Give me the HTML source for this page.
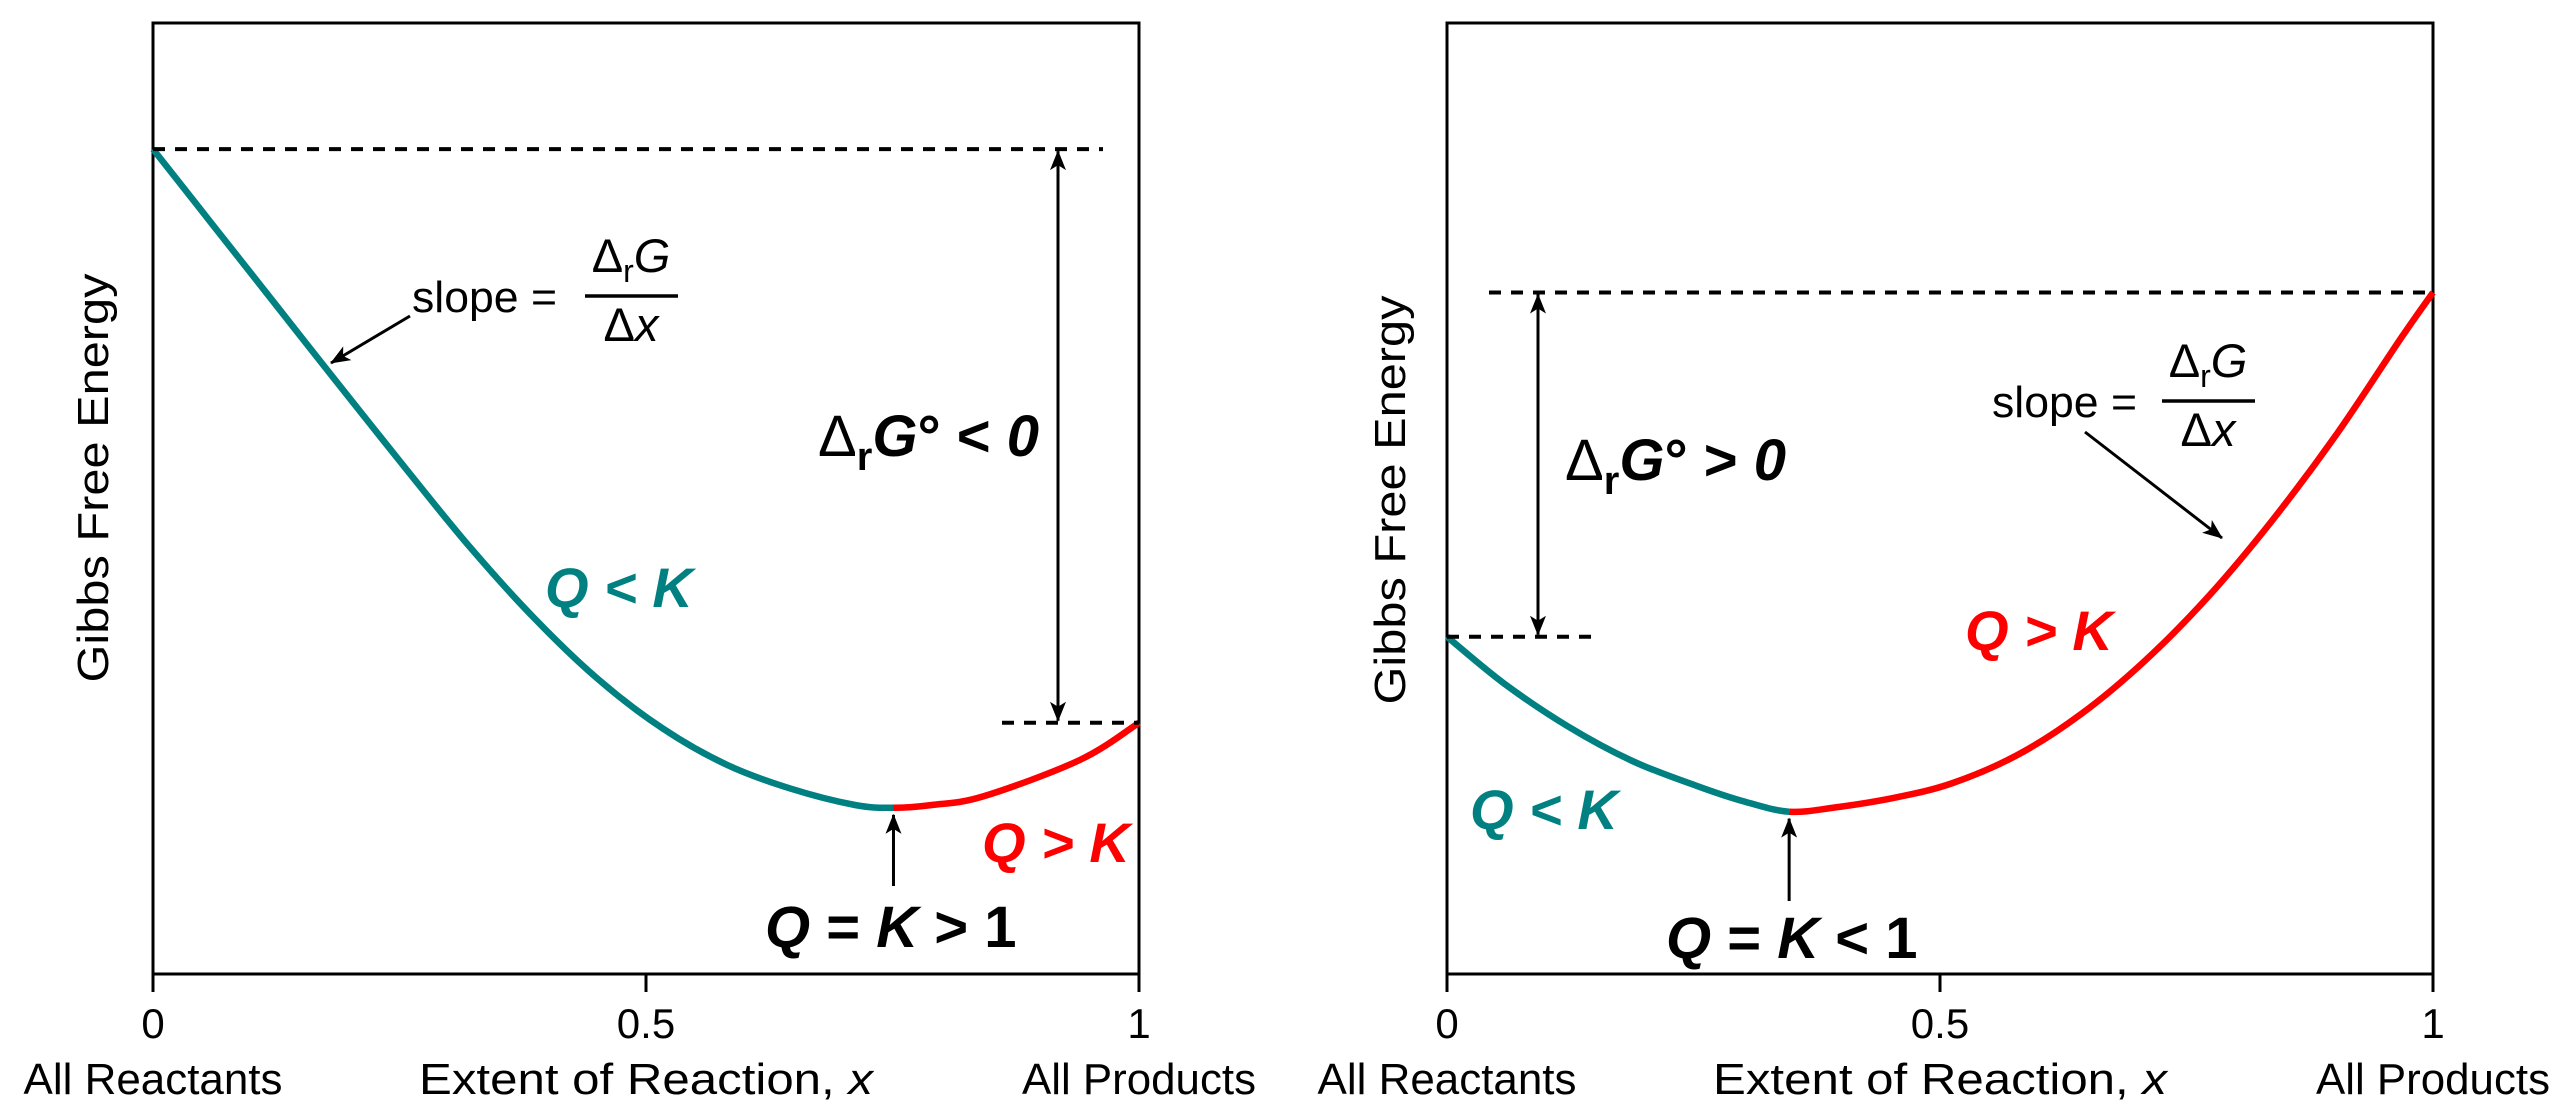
<!DOCTYPE html>
<html><head><meta charset="utf-8"><style>
html,body{margin:0;padding:0;background:#fff;}
svg{display:block;font-family:"Liberation Sans",Arial,sans-serif;}
</style></head><body>
<svg id="chart" width="2560" height="1120" viewBox="0 0 2560 1120" xmlns="http://www.w3.org/2000/svg">
<defs>
<marker id="ah" viewBox="0 0 20 20" refX="19" refY="10" markerWidth="20" markerHeight="20" markerUnits="userSpaceOnUse" orient="auto-start-reverse">
<path d="M0,2 L20,10 L0,18 L5,10 Z" fill="#000"/>
</marker>
</defs>
<g id="left"></g>
<g id="right"></g>
</svg>
<script>
// Data: extent of reaction sample points and Gibbs energy (arbitrary units)
const xSamplesLeft = [0,0.062,0.127,0.179,0.257,0.322,0.387,0.452,0.517,0.582,0.647,0.712,0.751,0.79,0.842,0.940,1];
const gLeft = [86.7,78.6,70.1,63.3,53.2,45.0,37.6,31.2,26.1,22.3,19.8,18.1,17.8,18.1,19.0,22.8,26.7];
const eqLeft = 0.751;
const xSamplesRight = [0,0.058,0.123,0.188,0.253,0.30,0.347,0.394,0.456,0.513,0.578,0.643,0.708,0.773,0.838,0.903,0.968,1];
const gRight = [35.7,30.8,26.3,22.7,20.1,18.5,17.4,17.85,18.9,20.4,23.3,27.6,33.2,40.0,48.0,57.0,67.0,71.7];
const eqRight = 0.347;
const xTicks = [0,0.5,1];
const xTickLabels = ["0","0.5","1"];

const NS="http://www.w3.org/2000/svg";
function mk(parent,tag,attrs,text){const e=document.createElementNS(NS,tag);for(const k in attrs)e.setAttribute(k,attrs[k]);if(text!==undefined)e.textContent=text;parent.appendChild(e);return e;}

const TOP=23, AXY=974, W=986;
function yScale(g){return 978-g*9.56;}

function splineSegs(pts){
  const segs=[];
  for(let i=0;i<pts.length-1;i++){
    const p0=pts[Math.max(0,i-1)],p1=pts[i],p2=pts[i+1],p3=pts[Math.min(pts.length-1,i+2)];
    const c1=[p1[0]+(p2[0]-p0[0])/6,p1[1]+(p2[1]-p0[1])/6];
    const c2=[p2[0]-(p3[0]-p1[0])/6,p2[1]-(p3[1]-p1[1])/6];
    segs.push(" C"+c1[0].toFixed(1)+","+c1[1].toFixed(1)+" "+c2[0].toFixed(1)+","+c2[1].toFixed(1)+" "+p2[0].toFixed(1)+","+p2[1].toFixed(1));
  }
  return segs;
}

function panel(g,X0,xs,gs,eq,opts){
  const xScale=v=>X0+v*W;
  const box=mk(g,"rect",{x:X0,y:TOP,width:W,height:AXY-TOP,fill:"none",stroke:"#000","stroke-width":3});
  
  
  xTicks.forEach((t,i)=>{
    const tk=mk(g,"line",{x1:xScale(t),x2:xScale(t),y1:AXY,y2:992,stroke:"#000","stroke-width":3});
    
    
    const tl=mk(g,"text",{x:xScale(t),y:1038,"font-size":42,"text-anchor":"middle"},xTickLabels[i]);
    
    
  });
  const a=mk(g,"text",{x:xScale(0),y:1094,"font-size":44,"text-anchor":"middle",textLength:259,lengthAdjust:"spacingAndGlyphs"},"All Reactants");
  
  
  const p=mk(g,"text",{x:xScale(1),y:1094,"font-size":44,"text-anchor":"middle",textLength:234,lengthAdjust:"spacingAndGlyphs"},"All Products");
  
  
  const xt=mk(g,"text",{x:xScale(0.5),y:1094,"font-size":44,"text-anchor":"middle",textLength:454,lengthAdjust:"spacingAndGlyphs"});
  
  
  mk(xt,"tspan",{},"Extent of Reaction, ");
  mk(xt,"tspan",{"font-style":"italic"},"x");
  const yt=mk(g,"text",{x:0,y:0,"font-size":44,"text-anchor":"middle",textLength:409,lengthAdjust:"spacingAndGlyphs",transform:"translate("+opts.ylx+","+opts.yly+") rotate(-90)"},"Gibbs Free Energy");
  
  

  const pts=xs.map((x,i)=>[xScale(x),yScale(gs[i])]);
  const k=xs.indexOf(eq);
  const segs=splineSegs(pts);
  const mv=p=>"M"+p[0].toFixed(1)+","+p[1].toFixed(1);
  const c1=mk(g,"path",{d:mv(pts[0])+segs.slice(0,k).join(""),fill:"none",stroke:"#008080","stroke-width":6.5});
  
  
  const c2=mk(g,"path",{d:mv(pts[k])+segs.slice(k).join(""),fill:"none",stroke:"#ff0000","stroke-width":6.5});
  
  

  const g0=yScale(gs[0]), g1=yScale(gs[gs.length-1]);
  opts.dashes.forEach(dd=>{
    const y=dd.end===0?g0:g1;
    const l=mk(g,"line",{x1:dd.x1,x2:dd.x2,y1:y,y2:y,stroke:"#000","stroke-width":4,"stroke-dasharray":"12 10"});
    
    
  });
  const da=mk(g,"line",{x1:opts.ax,x2:opts.ax,y1:Math.min(g0,g1)+2,y2:Math.max(g0,g1)-2,stroke:"#000","stroke-width":3,"marker-start":"url(#ah)","marker-end":"url(#ah)"});
  
  
  const ex=xScale(eq), ey=yScale(gs[k]);
  const ea=mk(g,"line",{x1:ex,x2:ex,y1:opts.eqArrowBottom,y2:ey+7,stroke:"#000","stroke-width":3,"marker-end":"url(#ah)"});
  
  
  const sa=mk(g,"line",{x1:opts.sa[0],y1:opts.sa[1],x2:opts.sa[2],y2:opts.sa[3],stroke:"#000","stroke-width":3,"marker-end":"url(#ah)"});
  
  
  const st=mk(g,"text",{x:opts.sx,y:opts.sy,"font-size":44,textLength:145,lengthAdjust:"spacingAndGlyphs"},"slope =");
  
  
  const fl=mk(g,"line",{x1:opts.fx1,x2:opts.fx1+93,y1:opts.fy,y2:opts.fy,stroke:"#000","stroke-width":3.5});
  
  
  const num=mk(g,"text",{x:opts.fx1+46,y:opts.fy-24,"font-size":47,"text-anchor":"middle"});
  
  
  mk(num,"tspan",{},"Δ");
  mk(num,"tspan",{"font-size":32,dy:10},"r");
  mk(num,"tspan",{"font-style":"italic",dy:-10},"G");
  const den=mk(g,"text",{x:opts.fx1+46,y:opts.fy+45,"font-size":47,"text-anchor":"middle"});
  
  
  mk(den,"tspan",{},"Δ");
  mk(den,"tspan",{"font-style":"italic"},"x");
  const dg=mk(g,"text",{x:opts.dgx,y:opts.dgy,"font-size":58,"font-weight":"bold"});
  
  
  mk(dg,"tspan",{"font-weight":"normal"},"Δ");
  mk(dg,"tspan",{"font-size":40,dy:14},"r");
  mk(dg,"tspan",{"font-style":"italic",dy:-14},"G");
  mk(dg,"tspan",{},"° "+opts.dgSign+" ");
  mk(dg,"tspan",{"font-style":"italic"},"0");
  const ql=mk(g,"text",{x:opts.qlx,y:opts.qly,"font-size":56,"font-weight":"bold","font-style":"italic",fill:"#008080"},"Q < K");
  
  
  const qg=mk(g,"text",{x:opts.qgx,y:opts.qgy,"font-size":56,"font-weight":"bold","font-style":"italic",fill:"#ff0000"},"Q > K");
  
  
  const qe=mk(g,"text",{x:opts.qex,y:opts.qey,"font-size":58,"font-weight":"bold"});
  
  
  mk(qe,"tspan",{"font-style":"italic"},"Q");
  mk(qe,"tspan",{}," = ");
  mk(qe,"tspan",{"font-style":"italic"},"K");
  mk(qe,"tspan",{}," "+opts.eqSign+" 1");
}

panel(document.getElementById("left"),153,xSamplesLeft,gLeft,eqLeft,{
  ylx:108,yly:478,
  dashes:[{end:0,x1:153,x2:1103},{end:1,x1:1002,x2:1139}],
  ax:1058,eqArrowBottom:886,
  sa:[410,316,331,363],sx:412,sy:312,fx1:585,fy:296,
  dgx:818,dgy:456,dgSign:"<",
  qlx:545,qly:607,qgx:982,qgy:862,qex:765,qey:947,eqSign:">"
});
panel(document.getElementById("right"),1447,xSamplesRight,gRight,eqRight,{
  ylx:1405,yly:500,
  dashes:[{end:1,x1:1489,x2:2433},{end:0,x1:1447,x2:1592}],
  ax:1538,eqArrowBottom:901,
  sa:[2085,432,2222,538],sx:1992,sy:417,fx1:2162,fy:401,
  dgx:1565,dgy:480,dgSign:">",
  qlx:1470,qly:829,qgx:1965,qgy:650,qex:1666,qey:958,eqSign:"<"
});
</script>
</body></html>
